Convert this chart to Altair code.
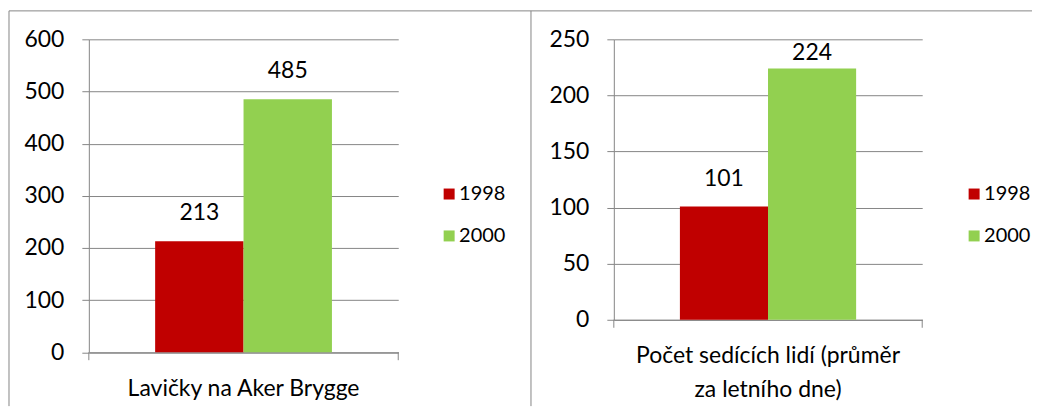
import altair as alt
import pandas as pd

# ---- data ----
categories = ["Lavičky na Aker Brygge", "Počet sedících lidí (průměr\nza letního dne)"]
years = ["1998", "2000"]
benches = [213, 485]
people = [101, 224]
y_max = [600, 250]
y_step = [100, 50]
colors = ["#C00000", "#92D050"]

FONT = "Lato"
GRID = "#868686"
FS = 23


def panel(cat, vals, ymax, step, width, height, left_line_x, right_line_x):
    df = pd.DataFrame({"cat": [cat] * len(years), "year": years, "value": vals})
    base = alt.Chart(df).transform_calculate(
        ypos=f"min(datum.value, {ymax} * 0.85)"
    )
    x = alt.X(
        "cat:N",
        title=None,
        scale=alt.Scale(paddingInner=0, paddingOuter=0.375),
        axis=alt.Axis(
            labelExpr="split(datum.label, '\\n')",
            ticks=False,
            tickSize=0,
            labelPadding=43,
            labelBaseline="alphabetic",
            labelLineHeight=34,
            labelAngle=0,
            grid=False,
            labelLimit=0,
        ),
    )
    xo = alt.XOffset("year:N", scale=alt.Scale(domain=years, paddingInner=0, paddingOuter=0))
    yscale = alt.Scale(domain=[0, ymax], nice=False)
    bars = base.mark_bar().encode(
        x=x,
        xOffset=xo,
        y=alt.Y(
            "value:Q",
            title=None,
            scale=yscale,
            axis=alt.Axis(
                values=list(range(0, ymax + 1, step)),
                tickSize=7,
                labelPadding=18,
                grid=True,
            ),
        ),
        color=alt.Color(
            "year:N",
            scale=alt.Scale(domain=years, range=colors),
            legend=alt.Legend(
                title=None,
                orient="none",
                legendX=351,
                legendY=145,
                symbolType="square",
                symbolSize=121,
                symbolStrokeWidth=0,
                labelFontSize=20,
                labelOffset=0,
                rowPadding=22,
                padding=0,
            ),
        ),
    )
    labels = base.mark_text(dy=-28, fontSize=FS, font=FONT, color="black", baseline="middle").encode(
        x=x,
        xOffset=xo,
        y=alt.Y("ypos:Q", scale=yscale, title=None),
        text="value:Q",
    )
    one = alt.Chart(pd.DataFrame({"d": [0]}))
    rule_style = dict(color=GRID, strokeWidth=1)
    ticks_l = one.mark_rule(**rule_style).encode(
        x=alt.value(0), y=alt.value(height), y2=alt.value(height + 8)
    )
    ticks_r = one.mark_rule(**rule_style).encode(
        x=alt.value(width), y=alt.value(height), y2=alt.value(height + 8)
    )
    vline = one.mark_rule(**rule_style).encode(
        x=alt.value(left_line_x), y=alt.value(-28.5), y2=alt.value(367.5)
    )
    layers = [bars, labels, ticks_l, ticks_r, vline]
    if right_line_x is not None:
        top = one.mark_rule(**rule_style).encode(
            x=alt.value(left_line_x), x2=alt.value(right_line_x), y=alt.value(-28.5)
        )
        layers.append(top)
    return alt.layer(*layers).properties(width=width, height=height)


left = panel(categories[0], benches, y_max[0], y_step[0], 310, 313.5, -80, 945)
right = panel(categories[1], people, y_max[1], y_step[1], 309, 281, -83, None)

chart = (
    alt.hconcat(left, right, spacing=216, bounds="flush")
    .resolve_scale(color="independent", y="independent", x="independent", xOffset="independent")
    .resolve_legend(color="independent")
    .properties(padding={"left": 0, "top": 2, "right": 0, "bottom": 0}, background="white")
    .configure_view(stroke=None)
    .configure_axis(
        domainColor=GRID,
        gridColor=GRID,
        tickColor=GRID,
        domainWidth=1,
        gridWidth=1,
        tickWidth=1,
        labelColor="black",
        labelFont=FONT,
        labelFontSize=FS,
    )
    .configure_legend(labelFont=FONT, labelColor="black")
    .configure_text(font=FONT)
)

chart.save("out.html", embed_options={"renderer": "svg", "actions": False})
